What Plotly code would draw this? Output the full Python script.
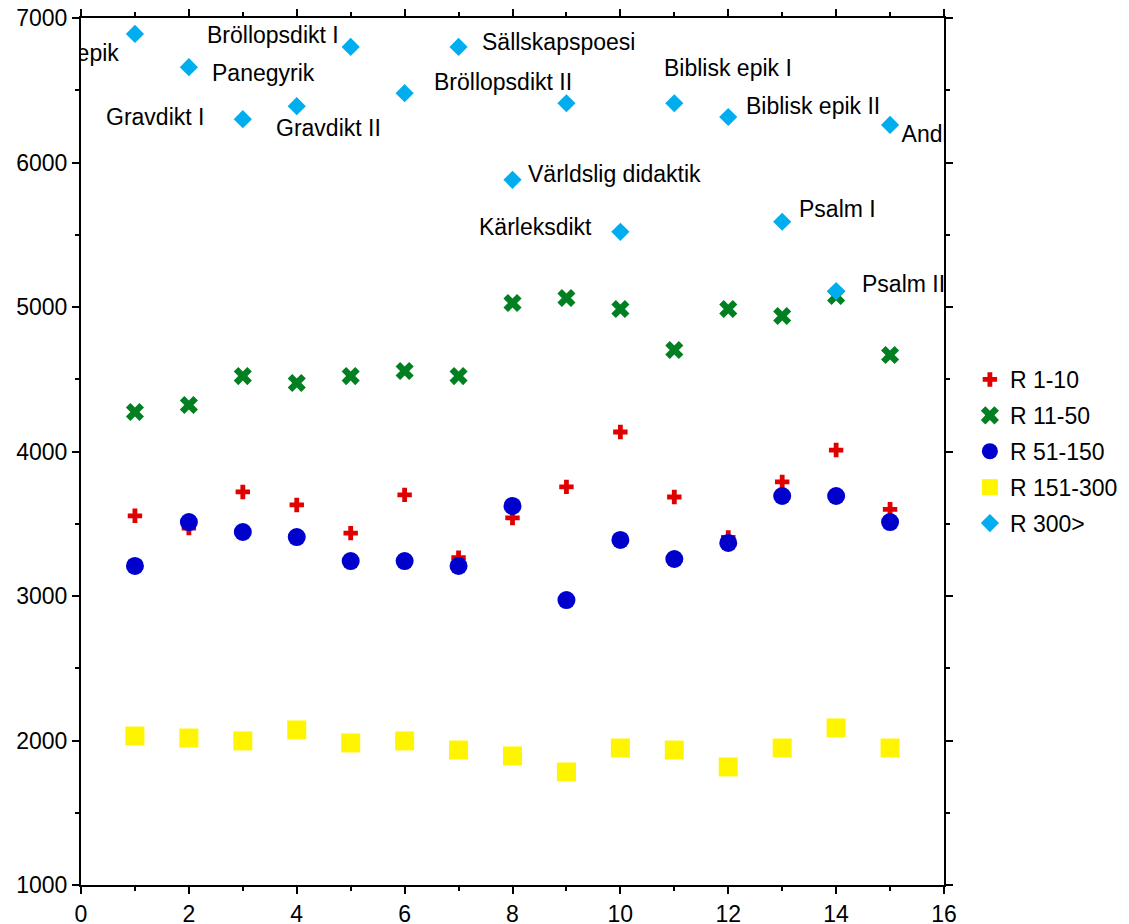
import plotly.graph_objects as go

x_vals = list(range(1, 16))

r_1_10 = [3555, 3470, 3720, 3630, 3435, 3700, 3265, 3540, 3755, 4135, 3685, 3405, 3790, 4010, 3600]
r_11_50 = [4273, 4322, 4522, 4474, 4522, 4557, 4522, 5028, 5062, 4986, 4702, 4986, 4938, 5076, 4668]
r_51_150 = [3208, 3512, 3443, 3408, 3242, 3242, 3208, 3623, 2972, 3388, 3256, 3367, 3692, 3692, 3512]
r_151_300 = [2031, 2017, 1997, 2073, 1983, 1997, 1934, 1893, 1782, 1948, 1934, 1817, 1948, 2087, 1948]
r_300 = [6890, 6660, 6300, 6390, 6800, 6480, 6800, 5880, 6410, 5520, 6410, 6315, 5590, 5110, 6260]

genre_labels = ["Världslig epik", "Panegyrik", "Gravdikt I", "Gravdikt II", "Bröllopsdikt I",
                "Bröllopsdikt II", "Sällskapspoesi", "Världslig didaktik", "", "Kärleksdikt",
                "Biblisk epik I", "Biblisk epik II", "Psalm I", "Psalm II", "Andlig lyrik"]

series_names = ["R 1-10", "R 11-50", "R 51-150", "R 151-300", "R 300>"]

# label placement styles: (xanchor, xshift, yshift) ; None -> drawn as clipped trace text
label_style = [None, ("left", 21, -6), ("right", -37, 2), ("left", -23, -22), ("right", -10, 12),
               ("left", 27, 11), ("left", 21, 5), ("left", 13, 6), None, ("right", -26, 5),
               ("left", -12, 35), ("left", 16, 11), ("left", 15, 13), ("left", 24, 7), None]

FONT = "Liberation Sans, Arial, sans-serif"

fig = go.Figure()
fig.add_trace(go.Scatter(x=x_vals, y=r_1_10, mode="markers", name=series_names[0], legendgroup="a",
                         marker=dict(symbol="cross", size=12, color="#E00000", line=dict(width=0))))
fig.add_trace(go.Scatter(x=x_vals, y=r_11_50, mode="markers", name=series_names[1], legendgroup="b",
                         marker=dict(symbol="x", size=16, color="#008020", line=dict(width=0))))
fig.add_trace(go.Scatter(x=x_vals, y=r_51_150, mode="markers", name=series_names[2], legendgroup="c",
                         marker=dict(symbol="circle", size=18, color="#0000CC", line=dict(width=0))))
fig.add_trace(go.Scatter(x=x_vals, y=r_151_300, mode="markers", name=series_names[3], legendgroup="d",
                         marker=dict(symbol="square", size=19, color="#FFF500", line=dict(width=0))))
fig.add_trace(go.Scatter(x=x_vals, y=r_300, mode="markers", name=series_names[4], legendgroup="e",
                         marker=dict(symbol="diamond", size=14, color="#00AEEF", line=dict(width=0))))

# clipped labels (first and last) as trace text so the plot area clips them
fig.add_trace(go.Scatter(x=[x_vals[0]], y=[r_300[0]], mode="markers+text", text=[genre_labels[0]],
                         texttemplate="%{text} ", textposition="bottom left",
                         marker=dict(size=14, color="rgba(0,0,0,0)", line=dict(width=0)),
                         textfont=dict(family=FONT, size=23, color="black"),
                         cliponaxis=True, showlegend=False, hoverinfo="skip"))
fig.add_trace(go.Scatter(x=[x_vals[14]], y=[r_300[14]], mode="text", text=[genre_labels[14]],
                         texttemplate="  %{text}", textposition="bottom right",
                         textfont=dict(family=FONT, size=23, color="black"),
                         cliponaxis=True, showlegend=False, hoverinfo="skip"))

for i, st in enumerate(label_style):
    if st is None or not genre_labels[i]:
        continue
    xa, xs, ys = st
    fig.add_annotation(x=x_vals[i], y=r_300[i], text=genre_labels[i], showarrow=False,
                       xanchor=xa, yanchor="middle", xshift=xs, yshift=ys,
                       font=dict(family=FONT, size=23, color="black"))

tick_font = dict(family=FONT, size=23, color="black")
axis_common = dict(showline=True, linecolor="black", linewidth=2, mirror="ticks",
                   ticks="outside", ticklen=7, tickwidth=2, tickcolor="black",
                   showgrid=False, zeroline=False, automargin=False, tickfont=tick_font)

fig.update_layout(
    width=1129, height=924,
    margin=dict(l=81, r=185, t=18, b=39, autoexpand=False),
    paper_bgcolor="white", plot_bgcolor="white",
    font=dict(family=FONT, size=23, color="black"),
    showlegend=True,
    xaxis=dict(range=[0, 16], dtick=2, tick0=0,
               minor=dict(dtick=1, ticks="outside", ticklen=4, tickwidth=2, tickcolor="black", showgrid=False),
               **axis_common),
    yaxis=dict(range=[1000, 7000], dtick=1000, tick0=1000,
               minor=dict(dtick=500, ticks="outside", ticklen=4, tickwidth=2, tickcolor="black", showgrid=False),
               **axis_common),
    legend=dict(x=1.03, y=0.5, xanchor="left", yanchor="middle", traceorder="grouped",
                tracegroupgap=3,
                font=dict(family=FONT, size=23, color="black"),
                bgcolor="rgba(0,0,0,0)", borderwidth=0, itemwidth=30),
)

fig.write_html("out.html", config={"displayModeBar": False},
               post_script="document.body.style.margin='0';document.body.style.overflow='hidden';")
